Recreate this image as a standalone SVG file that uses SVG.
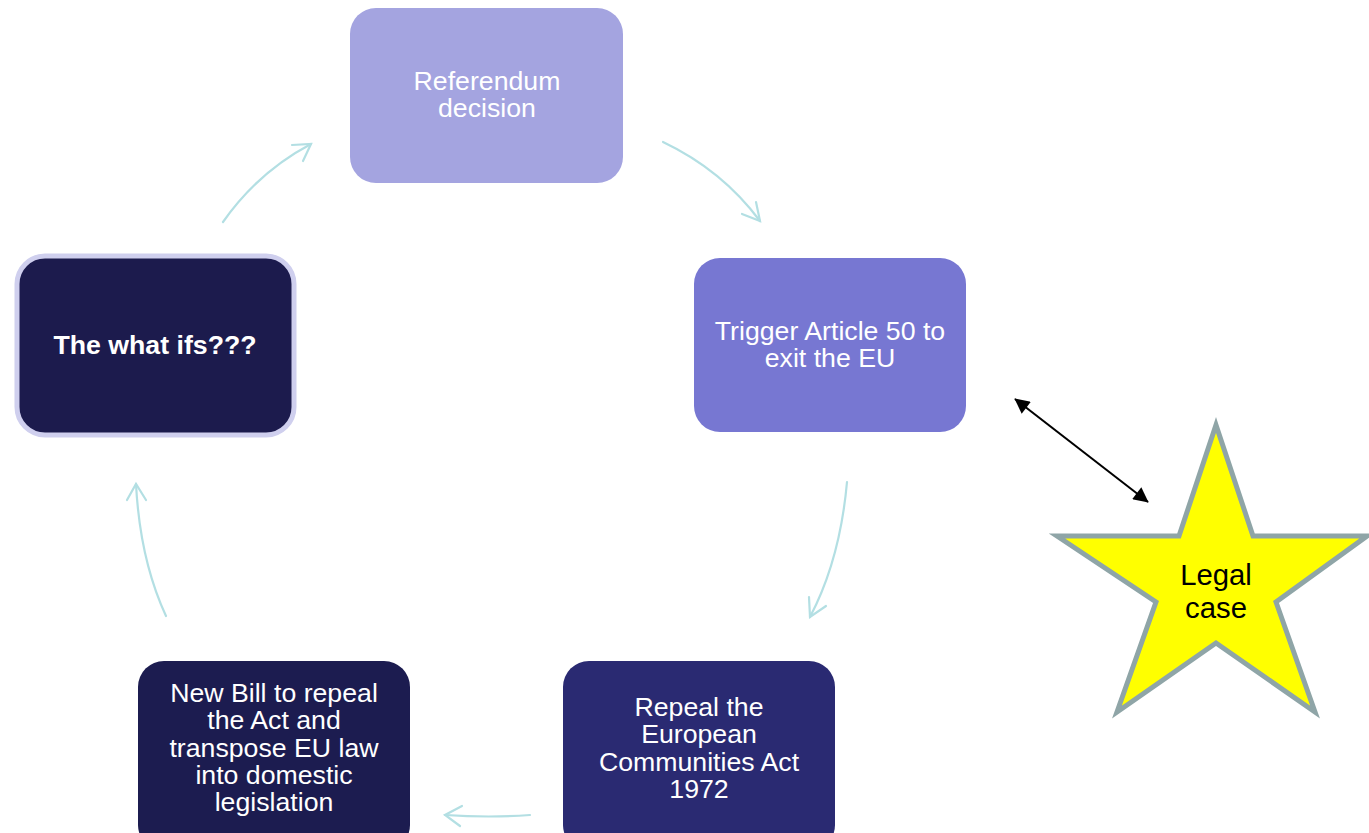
<svg xmlns="http://www.w3.org/2000/svg" width="1369" height="833" viewBox="0 0 1369 833">
<style>
.t{font-family:"Liberation Sans",Arial,sans-serif;font-size:26.7px;fill:#ffffff;text-anchor:middle}
.c{fill:none;stroke:#b3dfe3;stroke-width:2.2;stroke-linecap:round}
</style>
<defs>
<marker id="ah" viewBox="0 0 10 10" refX="9.5" refY="5" markerWidth="8.5" markerHeight="7.5" orient="auto-start-reverse" markerUnits="strokeWidth">
<path d="M0,0 L10,5 L0,10 z" fill="#000"/>
</marker>
</defs>
<rect width="1369" height="833" fill="#ffffff"/>
<g id="connectors">
<path class="c" d="M223,222 Q258,172 311,144"/>
<path class="c" d="M292,145 L311,144 L303,161"/>
<path class="c" d="M663,142 Q722,170 760,221"/>
<path class="c" d="M756,202 L760,221 L742,214"/>
<path class="c" d="M847,482 Q840,560 810,617"/>
<path class="c" d="M809,597 L810,617 L826,606"/>
<path class="c" d="M530,815 Q490,818 445,815"/>
<path class="c" d="M462,806 L445,815 L460,826"/>
<path class="c" d="M166,616 Q140,560 136,484"/>
<path class="c" d="M127,500 L136,484 L146,500"/>
<line x1="1015" y1="399" x2="1148" y2="502" stroke="#000" stroke-width="2" marker-start="url(#ah)" marker-end="url(#ah)"/>
</g>
<g id="referendum">
<rect x="350" y="8" width="273" height="175" rx="26" fill="#a4a4e0"/>
<text class="t" x="487" y="90">Referendum</text>
<text class="t" x="487" y="117">decision</text>
</g>
<g id="trigger">
<rect x="694" y="258" width="272" height="174" rx="26" fill="#7777d2"/>
<text class="t" x="830" y="340">Trigger Article 50 to</text>
<text class="t" x="830" y="367">exit the EU</text>
</g>
<g id="repeal">
<rect x="563" y="661" width="272" height="190" rx="26" fill="#2a2a72"/>
<text class="t" x="699" y="716">Repeal the</text>
<text class="t" x="699" y="743">European</text>
<text class="t" x="699" y="771">Communities Act</text>
<text class="t" x="699" y="798">1972</text>
</g>
<g id="newbill">
<rect x="138" y="661" width="272" height="190" rx="26" fill="#1c1c50"/>
<text class="t" x="274" y="702">New Bill to repeal</text>
<text class="t" x="274" y="729">the Act and</text>
<text class="t" x="274" y="757">transpose EU law</text>
<text class="t" x="274" y="784">into domestic</text>
<text class="t" x="274" y="811">legislation</text>
</g>
<g id="whatifs">
<rect x="17" y="256" width="277" height="179" rx="28" fill="#1c1b4d" stroke="#cfcfee" stroke-width="5"/>
<text class="t" x="155" y="354" font-weight="bold">The what ifs???</text>
</g>
<g id="legalcase">
<polygon points="1216,425 1253,536 1367,536 1276,602 1315,712 1216,643 1117,712 1156,602 1057,536 1179,536" fill="#ffff00" stroke="#8fa5a7" stroke-width="5" stroke-linejoin="miter"/>
<text class="t" x="1216" y="585" style="fill:#000;font-size:29.3px">Legal</text>
<text class="t" x="1216" y="618" style="fill:#000;font-size:29.3px">case</text>
</g>
</svg>
